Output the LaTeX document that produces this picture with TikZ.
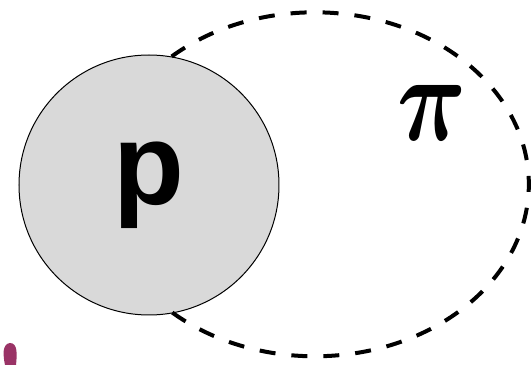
\documentclass[tikz,border=0pt]{standalone}
\usepackage{amsmath}
\usepackage{fontspec}
\newfontfamily\boldsans{Liberation Sans}
\usepackage{tikz}
\usepackage{xcolor}
\definecolor{blobred}{HTML}{9A3366}
\definecolor{ballgray}{HTML}{D9D9D9}

\begin{document}
\begin{tikzpicture}[
  x=0.5pt, y=0.5pt,
  ball/.style={circle, draw, line width=0.5pt, fill=ballgray, minimum size=130pt, inner sep=0pt,
    font=\boldsans\bfseries\fontsize{58}{58}\selectfont},
  loopline/.style={dashed, dash pattern=on 8pt off 8pt, line width=2pt}
]
\useasboundingbox (0,0) rectangle (532,365);
% particle with its pion loop
\node[ball] (p) at (149,180) {p};
\node[xscale=4.8, yscale=6.2, inner sep=0pt] (pi) at (432,252) {$\boldsymbol{\pi}$};
\draw[loopline] (p.80) arc[start angle=132, end angle=-132, x radius=107pt, y radius=86pt];
\fill[blobred] (5,0) .. controls (3,10) and (2,21) .. (10,22) .. controls (18,22) and (17,10) .. (16,0) -- cycle;
\end{tikzpicture}
\end{document}
